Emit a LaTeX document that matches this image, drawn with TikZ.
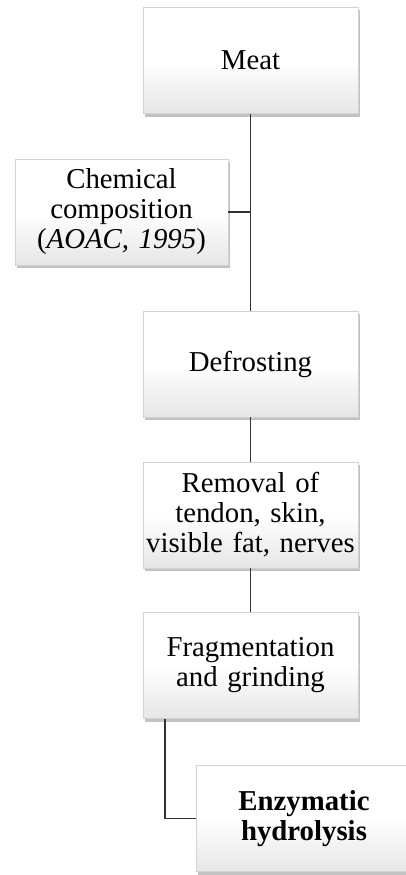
\documentclass[tikz,border=0pt]{standalone}
\usepackage{fontspec}
\setmainfont{Liberation Serif}
\usetikzlibrary{shadows}

\tikzset{
  stepbox/.style={draw=gray!35, line width=0.6pt,
    top color=white, bottom color=gray!20, middle color=white,
    drop shadow={shadow xshift=1.5pt, shadow yshift=-3pt, fill=gray!80, opacity=0.6},
    minimum width=215pt, minimum height=106pt, inner xsep=0pt,
    text width=215pt, align=center, font=\fontsize{28.8}{30}\selectfont},
  link/.style={line width=1.7pt, black!80}
}

\begin{document}
\begin{tikzpicture}[x=1pt, y=-1pt]
        \useasboundingbox (0,0) rectangle (406,875);
        \node[stepbox] (meat)    at (250.5,60.5)  {Meat};
        \node[stepbox, minimum width=213pt, text width=213pt] (chem) at (121.5,212) {Chemical\\composition\\(\textit{AOAC, 1995})};
        \node[stepbox] (defrost) at (250.5,364)   {Defrosting};
        \node[stepbox] (removal) at (250.5,515)   {Removal of\\tendon, skin,\\visible fat, nerves};
        \node[stepbox] (frag)    at (250.5,665.5) {Fragmentation\\and grinding};
        \node[stepbox, font=\fontsize{28.8}{30}\selectfont\bfseries] (enzyme) at (304,818.5) {Enzymatic\\hydrolysis};
        \draw[link] (meat) -- (defrost);
        \draw[link] (chem) -- (chem -| meat);
        \draw[link] (defrost) -- (removal);
        \draw[link] (removal) -- (frag);
        \draw[link] ([xshift=22pt]frag.south west) |- (enzyme.west);
    \end{tikzpicture}
\end{document}
